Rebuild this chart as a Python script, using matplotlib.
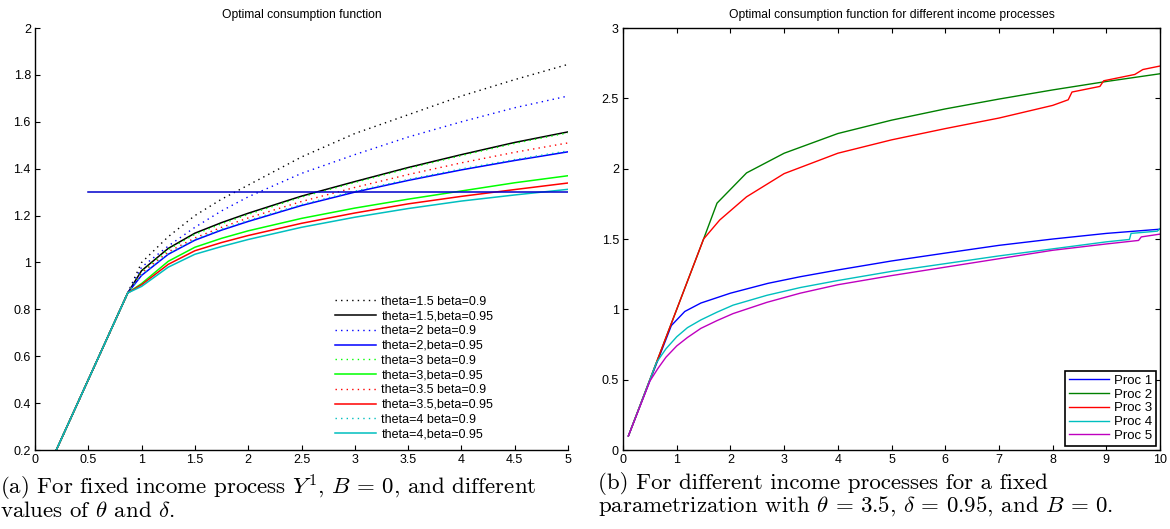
import matplotlib
matplotlib.use('Agg')
import matplotlib.pyplot as plt
from matplotlib.ticker import FormatStrFormatter, MultipleLocator

plt.rcParams['font.family'] = ['Liberation Sans', 'DejaVu Sans']
plt.rcParams['mathtext.fontset'] = 'cm'

# (a) consumption for income process Y^1, different theta / beta
x_left = [0.2, 0.87, 1.0, 1.25, 1.5, 1.75, 2.0, 2.5, 3.0, 3.5, 4.0, 4.5, 5.0]
c_t15_b090 = [0.20, 0.87, 1.000, 1.110, 1.200, 1.270, 1.330, 1.450, 1.550, 1.630, 1.710, 1.780, 1.845]
c_t15_b095 = [0.20, 0.87, 0.965, 1.060, 1.125, 1.170, 1.210, 1.283, 1.345, 1.405, 1.460, 1.512, 1.557]
c_t2_b090 = [0.20, 0.87, 0.980, 1.070, 1.150, 1.220, 1.280, 1.380, 1.460, 1.535, 1.600, 1.660, 1.710]
c_t2_b095 = [0.20, 0.87, 0.945, 1.035, 1.095, 1.138, 1.175, 1.243, 1.300, 1.350, 1.395, 1.435, 1.472]
c_t3_b090 = [0.20, 0.87, 0.960, 1.055, 1.120, 1.165, 1.205, 1.279, 1.341, 1.401, 1.456, 1.508, 1.553]
c_t3_b095 = [0.20, 0.87, 0.910, 1.005, 1.065, 1.103, 1.135, 1.188, 1.232, 1.270, 1.305, 1.340, 1.370]
c_t35_b090 = [0.20, 0.87, 0.955, 1.045, 1.105, 1.150, 1.190, 1.260, 1.320, 1.375, 1.425, 1.470, 1.510]
c_t35_b095 = [0.20, 0.87, 0.905, 0.992, 1.050, 1.085, 1.115, 1.167, 1.211, 1.250, 1.282, 1.311, 1.339]
c_t4_b090 = [0.20, 0.87, 0.948, 1.038, 1.099, 1.142, 1.179, 1.247, 1.304, 1.354, 1.399, 1.439, 1.476]
c_t4_b095 = [0.20, 0.87, 0.898, 0.980, 1.035, 1.068, 1.098, 1.150, 1.193, 1.230, 1.262, 1.288, 1.312]
left_labels = ['theta=1.5 beta=0.9', 'theta=1.5,beta=0.95',
               'theta=2 beta=0.9', 'theta=2,beta=0.95',
               'theta=3 beta=0.9', 'theta=3,beta=0.95',
               'theta=3.5 beta=0.9', 'theta=3.5,beta=0.95',
               'theta=4 beta=0.9', 'theta=4,beta=0.95']
ref_x = [0.5, 5.0]
ref_c = [1.3, 1.3]

# (b) consumption for five income processes, theta=3.5, delta=0.95
proc1_x = [0.1, 0.9, 1.15, 1.45, 2.0, 2.7, 3.3, 4.0, 5.0, 6.0, 7.0, 8.0, 9.0, 10.0]
proc1_c = [0.1, 0.885, 0.985, 1.045, 1.115, 1.185, 1.232, 1.28, 1.344, 1.40, 1.455, 1.50, 1.54, 1.57]
proc2_x = [0.1, 1.5, 1.75, 2.3, 3.0, 4.0, 5.0, 6.0, 7.0, 8.0, 9.0, 10.0]
proc2_c = [0.1, 1.5, 1.755, 1.97, 2.11, 2.25, 2.345, 2.425, 2.495, 2.56, 2.62, 2.675]
proc3_x = [0.1, 1.5, 1.8, 2.3, 3.0, 4.0, 5.0, 6.0, 7.0, 8.0, 8.29, 8.36, 8.88, 8.95, 9.53, 9.68, 10.0]
proc3_c = [0.1, 1.5, 1.635, 1.80, 1.965, 2.11, 2.205, 2.285, 2.36, 2.45, 2.49, 2.545, 2.585, 2.625, 2.67, 2.705, 2.73]
proc4_x = [0.1, 0.62, 0.8, 1.0, 1.2, 1.45, 1.75, 2.05, 2.68, 3.3, 4.0, 5.0, 6.0, 7.0, 8.0, 9.0, 9.43, 9.46, 9.95, 10.0]
proc4_c = [0.1, 0.62, 0.72, 0.805, 0.87, 0.925, 0.98, 1.03, 1.10, 1.155, 1.205, 1.27, 1.325, 1.38, 1.43, 1.48, 1.497, 1.54, 1.556, 1.575]
proc5_x = [0.1, 0.5, 0.65, 0.8, 1.0, 1.2, 1.45, 1.75, 2.05, 2.68, 3.3, 4.0, 5.0, 6.0, 7.0, 8.0, 9.0, 9.6, 9.65, 10.0]
proc5_c = [0.1, 0.49, 0.58, 0.66, 0.74, 0.80, 0.865, 0.92, 0.97, 1.05, 1.115, 1.175, 1.24, 1.30, 1.36, 1.42, 1.465, 1.49, 1.515, 1.535]
proc_labels = ['Proc 1', 'Proc 2', 'Proc 3', 'Proc 4', 'Proc 5']

fig = plt.figure(figsize=(11.7, 5.29), dpi=100)

# ---------- left panel ----------
ax1 = fig.add_axes([0.0299, 0.1493, 0.4556, 0.7977])
left_series = [c_t15_b090, c_t15_b095, c_t2_b090, c_t2_b095, c_t3_b090,
               c_t3_b095, c_t35_b090, c_t35_b095, c_t4_b090, c_t4_b095]
left_colors = ['k', 'k', 'b', 'b', (0, 1, 0), (0, 1, 0), 'r', 'r', 'c', 'c']
for i, (c, col, lab) in enumerate(zip(left_series, left_colors, left_labels)):
    if i % 2 == 0:
        ax1.plot(x_left, c, color=col, lw=1.0, linestyle=(0, (1, 3)), label=lab)
    else:
        ax1.plot(x_left, c, color=col, lw=1.1, label=lab)
ax1.plot(ref_x, ref_c, color=(0, 0, 0.8), lw=1.1)

ax1.set_xlim(0, 5)
ax1.set_ylim(0.2, 2)
ax1.xaxis.set_major_locator(MultipleLocator(0.5))
ax1.yaxis.set_major_locator(MultipleLocator(0.2))
ax1.xaxis.set_major_formatter(FormatStrFormatter('%g'))
ax1.yaxis.set_major_formatter(FormatStrFormatter('%g'))
ax1.spines['top'].set_visible(False)
ax1.spines['right'].set_visible(False)
ax1.tick_params(direction='in', length=3.5, labelsize=9, pad=3, top=False, right=False)
ax1.set_title('Optimal consumption function', fontsize=8.7, pad=7)
ax1.legend(loc='lower left', bbox_to_anchor=(0.548, 0.005), frameon=False, fontsize=9,
           handlelength=3.3, handletextpad=0.45, labelspacing=0.22, borderaxespad=0.2)

# ---------- right panel ----------
ax2 = fig.add_axes([0.5325, 0.1493, 0.459, 0.7977])
proc_x = [proc1_x, proc2_x, proc3_x, proc4_x, proc5_x]
proc_c = [proc1_c, proc2_c, proc3_c, proc4_c, proc5_c]
proc_colors = [(0, 0, 1), (0, 0.5, 0), (1, 0, 0), (0, 0.75, 0.75), (0.75, 0, 0.75)]
for xs, cs, col, lab in zip(proc_x, proc_c, proc_colors, proc_labels):
    ax2.plot(xs, cs, color=col, lw=1.0, label=lab)

ax2.set_xlim(0, 10)
ax2.set_ylim(0, 3)
ax2.xaxis.set_major_locator(MultipleLocator(1))
ax2.yaxis.set_major_locator(MultipleLocator(0.5))
ax2.xaxis.set_major_formatter(FormatStrFormatter('%g'))
ax2.yaxis.set_major_formatter(FormatStrFormatter('%g'))
ax2.tick_params(direction='in', length=3.5, labelsize=9, pad=3, top=True, right=True)
ax2.set_title('Optimal consumption function for different income processes', fontsize=8.7, pad=7)
leg = ax2.legend(loc='lower right', fontsize=9.5, fancybox=False, framealpha=1,
                 edgecolor='k', handlelength=3.0, handletextpad=0.4, labelspacing=0.12,
                 borderpad=0.3, borderaxespad=0.3)
leg.get_frame().set_linewidth(1.2)

for ax in (ax1, ax2):
    for s in ax.spines.values():
        s.set_linewidth(1.0)

# captions under each panel
fig.text(0.0, 0.107, '(a) For fixed income process $Y^1$, $B\\,=\\,0$, and different\nvalues of $\\theta$ and $\\delta$.',
         family='cmr10', fontsize=16.5, va='top', ha='left', linespacing=0.92)
fig.text(0.511, 0.107, '(b) For different income processes for a fixed\nparametrization with $\\theta\\,=\\,3.5$, $\\delta\\,=\\,0.95$, and $B\\,=\\,0$.',
         family='cmr10', fontsize=16.5, va='top', ha='left', linespacing=0.92)

fig.savefig('out.png', dpi=100)
